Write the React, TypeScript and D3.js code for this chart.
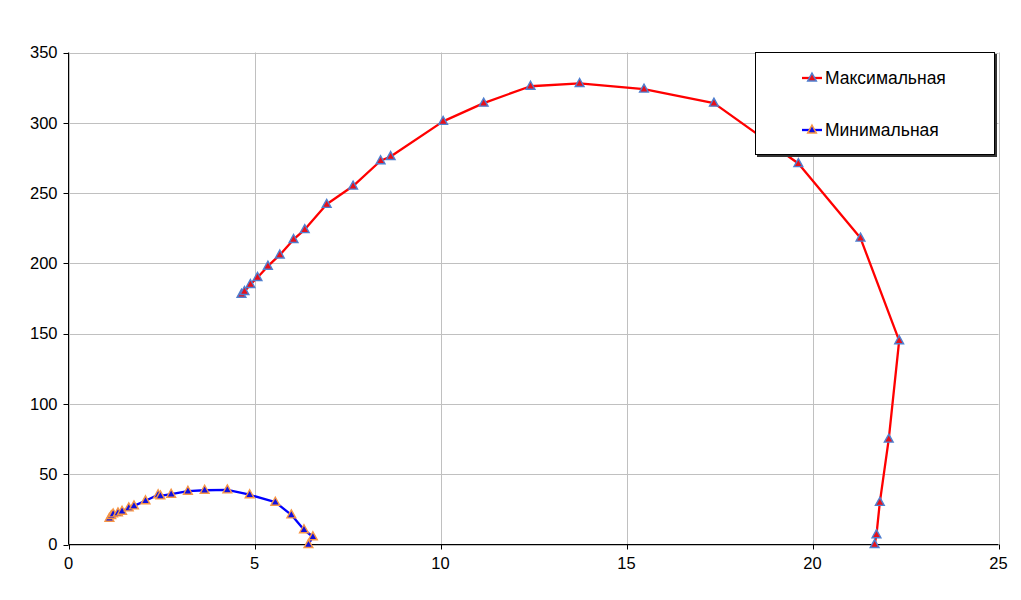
import React from "react";
import * as d3 from "d3";

const maxX = [4.65, 4.73, 4.89, 5.08, 5.36, 5.68, 6.05, 6.35, 6.94, 7.65, 8.39, 8.66, 10.07, 11.16, 12.42, 13.74, 15.47, 17.35, 19.62, 21.29, 22.33, 22.05, 21.81, 21.72, 21.67];
const maxY = [178, 180, 185, 190, 198, 206, 217, 224, 242, 255, 273, 276, 301, 314, 326, 328, 324, 314, 271, 218, 145, 75, 30, 7, 0];

const minX = [1.1, 1.15, 1.2, 1.33, 1.44, 1.62, 1.76, 2.07, 2.41, 2.47, 2.76, 3.21, 3.66, 4.27, 4.87, 5.56, 5.99, 6.33, 6.57, 6.45];
const minY = [18.7, 20.6, 21.8, 22.5, 23.7, 26.1, 27.5, 31.1, 35.4, 34.6, 35.8, 37.9, 38.6, 38.9, 35.4, 30.1, 21.1, 10.5, 5.5, 0];

const xTicks = [0, 5, 10, 15, 20, 25];
const yTicks = [0, 50, 100, 150, 200, 250, 300, 350];
const seriesNames = ["Максимальная", "Минимальная"];

const W = 1021;
const H = 600;
const left = 68.5;
const right = 998.5;
const top = 52.5;
const bottom = 544.5;

const x = d3.scaleLinear().domain([0, 25]).range([left, right]);
const y = d3.scaleLinear().domain([0, 350]).range([bottom, top]);

const series = [
  { name: seriesNames[0], xs: maxX, ys: maxY, line: "#ff0000", mFill: "#e8101a", mStroke: "#4f7fd0" },
  { name: seriesNames[1], xs: minX, ys: minY, line: "#0000ff", mFill: "#1010e0", mStroke: "#f79646" },
];

const tri = (cx: number, cy: number, s: number) =>
  `M${cx},${cy - s * 0.62} L${cx + s * 0.55},${cy + s * 0.38} L${cx - s * 0.55},${cy + s * 0.38} Z`;

export default function App() {
  const lineGen = d3
    .line<[number, number]>()
    .x((d) => x(d[0]))
    .y((d) => y(d[1]));
  const font = "'Liberation Sans', Arial, sans-serif";
  return (
    <svg width={W} height={H} style={{ position: "absolute", left: 0, top: 0, background: "#fff" }}>
      <rect width={W} height={H} fill="#fff" />
      {yTicks.map((t) => (
        <line key={"gy" + t} x1={left} x2={right} y1={Math.round(y(t)) + 0.5} y2={Math.round(y(t)) + 0.5} stroke="#c0c0c0" strokeWidth={1} />
      ))}
      {xTicks.map((t) => (
        <line key={"gx" + t} y1={top} y2={bottom} x1={Math.round(x(t)) + 0.5} x2={Math.round(x(t)) + 0.5} stroke="#c0c0c0" strokeWidth={1} />
      ))}
      <line x1={left} x2={left} y1={top} y2={bottom} stroke="#000" />
      <line x1={left} x2={right} y1={bottom} y2={bottom} stroke="#000" />
      {yTicks.map((t) => (
        <g key={"ty" + t}>
          <line x1={left - 5} x2={left} y1={Math.round(y(t)) + 0.5} y2={Math.round(y(t)) + 0.5} stroke="#000" />
          <text x={left - 11} y={y(t)} dy="0.35em" textAnchor="end" fontFamily={font} fontSize={16.5} fill="#000">
            {t}
          </text>
        </g>
      ))}
      {xTicks.map((t) => (
        <g key={"tx" + t}>
          <line y1={bottom} y2={bottom + 5} x1={Math.round(x(t)) + 0.5} x2={Math.round(x(t)) + 0.5} stroke="#000" />
          <text x={x(t)} y={bottom + 19} dy="0.35em" textAnchor="middle" fontFamily={font} fontSize={16.5} fill="#000">
            {t}
          </text>
        </g>
      ))}
      {series.map((s) => {
        const pts: [number, number][] = s.xs.map((v, i) => [v, s.ys[i]]);
        return (
          <g key={s.name}>
            <path d={lineGen(pts) || ""} fill="none" stroke={s.line} strokeWidth={2.3} strokeLinejoin="round" />
            {pts.map((p, i) => (
              <path key={i} d={tri(x(p[0]), y(p[1]), 8)} fill={s.mFill} stroke={s.mStroke} strokeWidth={1.4} />
            ))}
          </g>
        );
      })}
      <rect x={757} y={54} width={240} height={103} fill="#333" />
      <rect x={755.5} y={52.5} width={239} height={102} fill="#fff" stroke="#000" strokeWidth={1} />
      {series.map((s, i) => {
        const ly = 78 + i * 52;
        return (
          <g key={"lg" + i}>
            <line x1={802} x2={822} y1={ly} y2={ly} stroke={s.line} strokeWidth={2.3} />
            <path d={tri(812, ly, 8)} fill={s.mFill} stroke={s.mStroke} strokeWidth={1.4} />
            <text x={825} y={ly} dy="0.35em" fontFamily={font} fontSize={17.5} fill="#000">
              {s.name}
            </text>
          </g>
        );
      })}
    </svg>
  );
}
